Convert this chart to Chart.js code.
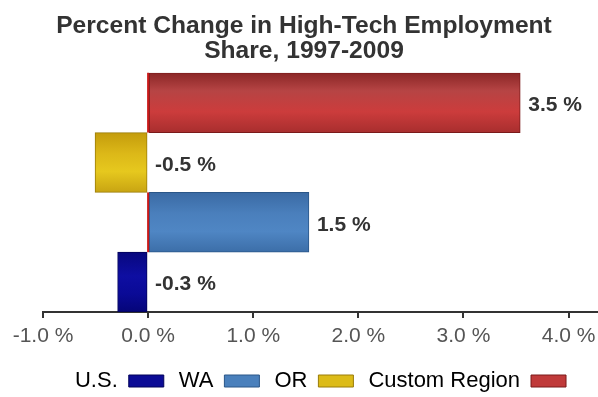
<!DOCTYPE html>
<html>
<head>
<meta charset="utf-8">
<script src="https://cdn.jsdelivr.net/npm/chart.js@4/dist/chart.umd.min.js"></script>
<style>
  html, body { margin: 0; padding: 0; background: #ffffff; }
  #wrap { width: 598px; height: 397px; position: relative; }
</style>
</head>
<body>
<div id="wrap"><canvas id="c"></canvas></div>
<script>
// ---- data ----
const titleLines = ['Percent Change in High-Tech Employment', 'Share, 1997-2009'];
const categories = ['Custom Region', 'OR', 'WA', 'U.S.'];
const values = [3.54, -0.505, 1.53, -0.29];
const tickValues = [-1, 0, 1, 2, 3, 4];
const axisMin = -1;
const axisMax = 4.28;

// ---- styles ----
const gradStops = [
  [[0, '#8a2626'], [0.3, '#b64444'], [0.65, '#cc3c3c'], [1, '#a82e2e']],
  [[0, '#c49c0c'], [0.35, '#dcb818'], [0.65, '#e6c81e'], [1, '#c8a412']],
  [[0, '#3a6aa4'], [0.35, '#4a7fbc'], [0.65, '#4f86c4'], [1, '#3c6ea8']],
  [[0, '#08087e'], [0.4, '#0e0ea2'], [0.7, '#0a0a96'], [1, '#050578']]
];
const solidColors = ['#c03a3a', '#dcbb18', '#4a80bc', '#0c0c96'];
const borderColors = ['#7a1a1a', '#9a7c08', '#2a5688', '#02025a'];

Chart.defaults.font.family = "'Liberation Sans', Arial, Helvetica, sans-serif";

function barFill(ctx) {
  const chart = ctx.chart;
  const area = chart.chartArea;
  const i = ctx.dataIndex;
  if (i === undefined || !area || !chart.scales.y) return solidColors[i || 0];
  const ys = chart.scales.y;
  const yc = ys.getPixelForValue(i);
  const half = (area.bottom - area.top) / categories.length / 2;
  const g = chart.ctx.createLinearGradient(0, yc - half, 0, yc + half);
  gradStops[i].forEach(([o, c]) => g.addColorStop(o, c));
  return g;
}

const barDecor = {
  id: 'barDecor',
  afterDatasetsDraw(chart) {
    const ctx = chart.ctx;
    const meta = chart.getDatasetMeta(0);
    const x0 = chart.scales.x.getPixelForValue(0);
    ctx.save();
    meta.data.forEach((bar, i) => {
      const p = bar.getProps(['x', 'y', 'base', 'height'], true);
      if (values[i] >= 0) {
        ctx.strokeStyle = '#c81818';
        ctx.lineWidth = 2;
        ctx.beginPath();
        ctx.moveTo(x0, p.y - p.height / 2);
        ctx.lineTo(x0, p.y + p.height / 2);
        ctx.stroke();
      }
      ctx.fillStyle = '#333333';
      ctx.font = "bold 21px 'Liberation Sans', Arial, sans-serif";
      ctx.textAlign = 'left';
      ctx.textBaseline = 'middle';
      const tx = Math.max(p.x, p.base) + 8;
      ctx.fillText(values[i].toFixed(1) + ' %', tx, p.y + 2.5);
    });
    ctx.restore();
  }
};

new Chart(document.getElementById('c'), {
  type: 'bar',
  data: {
    labels: categories,
    datasets: [{
      data: values,
      backgroundColor: barFill,
      borderColor: borderColors,
      borderWidth: 1,
      borderSkipped: false,
      barPercentage: 1,
      categoryPercentage: 1
    }]
  },
  options: {
    indexAxis: 'y',
    responsive: true,
    maintainAspectRatio: false,
    animation: false,
    layout: { padding: { left: 10, right: 0, top: 0, bottom: 0 } },
    plugins: {
      tooltip: { enabled: false },
      title: {
        display: true,
        text: titleLines,
        color: '#333333',
        font: { size: 24.6, weight: 'bold', lineHeight: 1.04 },
        padding: { top: 13, bottom: 8.6 }
      },
      legend: {
        display: true,
        position: 'bottom',
        fullSize: false,
        rtl: true,
        textDirection: 'ltr',
        maxHeight: 42,
        labels: {
          boxWidth: 35,
          boxHeight: 12,
          padding: 15,
          color: '#444444',
          font: { size: 22 },
          generateLabels: () => categories.map((c, i) => ({
            text: c,
            fillStyle: solidColors[i],
            strokeStyle: borderColors[i],
            lineWidth: 1,
            hidden: false,
            index: i
          }))
        }
      }
    },
    scales: {
      x: {
        type: 'linear',
        min: axisMin,
        max: axisMax,
        afterBuildTicks: (s) => { s.ticks = tickValues.map(v => ({ value: v })); },
        ticks: {
          callback: (v) => Number(v).toFixed(1) + ' %',
          color: '#555555',
          font: { size: 21, lineHeight: 1.762 },
          padding: 0
        },
        grid: { drawOnChartArea: false, tickLength: 6, color: '#333333', lineWidth: 2 },
        border: { color: '#333333', width: 2 }
      },
      y: {
        display: true,
        ticks: { display: false },
        grid: { display: false },
        border: { display: false },
        afterFit: (s) => { s.width = 33; }
      }
    }
  },
  plugins: [barDecor]
});
</script>
</body>
</html>
